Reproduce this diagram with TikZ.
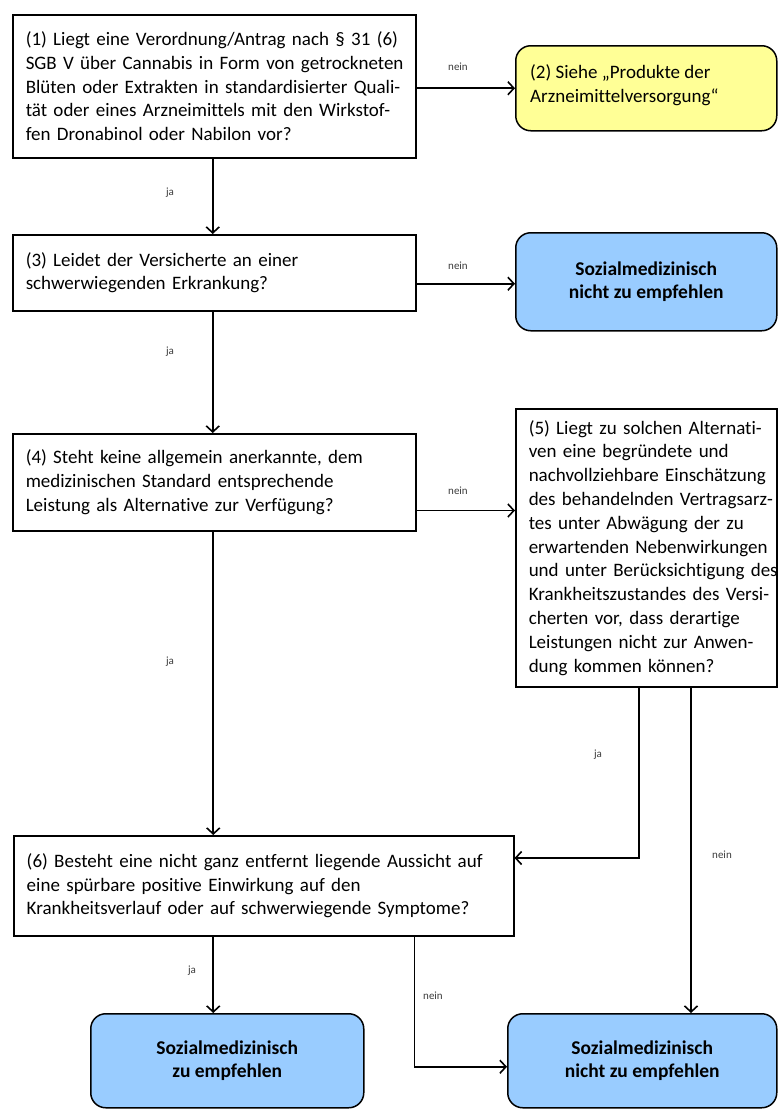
\documentclass[tikz,border=0pt]{standalone}
\usepackage{fontspec}
\setmainfont{Carlito}[Ligatures=NoCommon]
\usetikzlibrary{arrows.meta,calc}
\definecolor{yel}{RGB}{255,255,150}
\definecolor{blu}{RGB}{153,204,255}
\definecolor{lbl}{RGB}{60,60,60}
\tikzset{
  qbox/.style={draw=black,line width=1.5pt,fill=white,rectangle,anchor=north west,
    inner xsep=13pt,inner ysep=0pt,align=left,font=\fontsize{19}{23.8}\selectfont},
  rbox/.style={draw=black,line width=1.5pt,rectangle,rounded corners=15pt,anchor=north west,
    inner sep=0pt},
  arr/.style={draw=black,line width=1.6pt,-{Straight Barb[length=6pt,width=13pt,line width=1.6pt]}},
  lab/.style={font=\fontsize{11}{12}\selectfont,text=lbl,inner sep=0pt},
}
\newcommand{\jl}[1]{\makebox[377pt][s]{#1}}
\newcommand{\nb}[1]{\mbox{#1}}
\begin{document}
\begin{tikzpicture}[x=1pt,y=-1pt]
\useasboundingbox (0,0) rectangle (777,1111);
\fill[white] (0,0) rectangle (777,1111);
% boxes
\node[qbox,minimum width=403pt,minimum height=143pt,text width=377pt] (b1) at (12,14)
 {\jl{(1) Liegt eine Verordnung/Antrag nach § 31 (6)}\\
  \jl{SGB V über Cannabis in Form von getrockneten}\\
  \jl{Blüten oder Extrakten in standardisierter Quali-}\\
  \jl{tät oder eines Arzneimittels mit den Wirkstof-}\\
  fen Dronabinol oder Nabilon vor?};
\node[rbox,fill=yel,minimum width=261pt,minimum height=85pt] (b2) at (515,45) {};
\node[anchor=west,inner sep=0pt,align=left,font=\fontsize{19}{23.8}\selectfont] (t2) at ($(b2.west)+(15,-3)$)
 {(2) Siehe „Produkte der\\Arzneimittelversorgung“};
\node[qbox,minimum width=403pt,minimum height=76pt,text width=377pt] (b3) at (12,234)
 {(3) Leidet der Versicherte an einer\\schwerwiegenden Erkrankung?};
\node[rbox,fill=blu,minimum width=261pt,minimum height=98pt,align=center,
  font=\bfseries\fontsize{19.5}{23.8}\selectfont] (r1) at (515,232)
 {Sozialmedizinisch\\nicht zu empfehlen};
\node[qbox,minimum width=403pt,minimum height=97pt,text width=377pt] (b4) at (12,433)
 {(4) Steht keine allgemein anerkannte, dem\\medizinischen Standard entsprechende\\Leistung als Alternative zur Verfügung?};
\node[qbox,minimum width=261pt,minimum height=278pt,text width=235pt] (b5) at (515,408)
 {\nb{(5) Liegt zu solchen Alternati-}\\\nb{ven eine begründete und}\\\nb{nachvollziehbare Einschätzung}\\\nb{des behandelnden Vertragsarz-}\\\nb{tes unter Abwägung der zu}\\\nb{erwartenden Nebenwirkungen}\\\nb{und unter Berücksichtigung des}\\\nb{Krankheitszustandes des Versi-}\\\nb{cherten vor, dass derartige}\\\nb{Leistungen nicht zur Anwen-}\\\nb{dung kommen können?}};
\node[qbox,minimum width=500pt,minimum height=100pt,text width=474pt] (b6) at (13,835)
 {(6) Besteht eine nicht ganz entfernt liegende Aussicht auf\\eine spürbare positive Einwirkung auf den\\Krankheitsverlauf oder auf schwerwiegende Symptome?};
\node[rbox,fill=blu,minimum width=273pt,minimum height=94pt,align=center,
  font=\bfseries\fontsize{19.5}{23.8}\selectfont] (r2) at (90,1013)
 {Sozialmedizinisch\\zu empfehlen};
\node[rbox,fill=blu,minimum width=269pt,minimum height=94pt,align=center,
  font=\bfseries\fontsize{19.5}{23.8}\selectfont] (r3) at (507,1013)
 {Sozialmedizinisch\\nicht zu empfehlen};
% connectors
\draw[arr] (b1.east |- b2.west) -- (b2.west);
\draw[arr] ($(b1.south)+(-1.5,0)$) -- ($(b3.north)+(-1.5,0)$);
\draw[arr] ($(b3.east |- r1.west)+(0,2)$) -- ($(r1.west)+(0,2)$);
\draw[arr] ($(b3.south)+(-1.5,0)$) -- ($(b4.north)+(-1.5,0)$);
\coordinate (c45) at ($(b4.south east)+(0,-21)$);
\draw[arr] (c45) -- (c45 -| b5.west);
\coordinate (c46) at ($(b4.south)+(-1,0)$);
\draw[arr] (c46) -- (c46 |- b6.north);
\coordinate (p1) at ($(b5.south west)+(124,0)$);
\coordinate (p2) at ($(b5.south west)+(176,0)$);
\draw[arr] (p1) |- ($(b6.north east)+(0,23)$);
\draw[arr] (p2) -- (p2 |- r3.north);
\coordinate (c6a) at (c46 |- b6.south);
\draw[arr] (c6a) -- (c6a |- r2.north);
\coordinate (p3) at ($(b6.south east)+(-100,0)$);
\draw[arr] (p3) |- ($(r3.west)+(0,6)$);
% labels
\node[lab] (l1) at (458,67) {nein};
\node[lab] (l2) at (170,193) {ja};
\node[lab] (l3) at (458,266) {nein};
\node[lab] (l4) at (170,352) {ja};
\node[lab] (l5) at (458,491) {nein};
\node[lab] (l6) at (170,662) {ja};
\node[lab] (l7) at (598,755) {ja};
\node[lab] (l8) at (722,855) {nein};
\node[lab] (l9) at (192,971) {ja};
\node[lab] (l10) at (433,996) {nein};
\end{tikzpicture}
\end{document}
